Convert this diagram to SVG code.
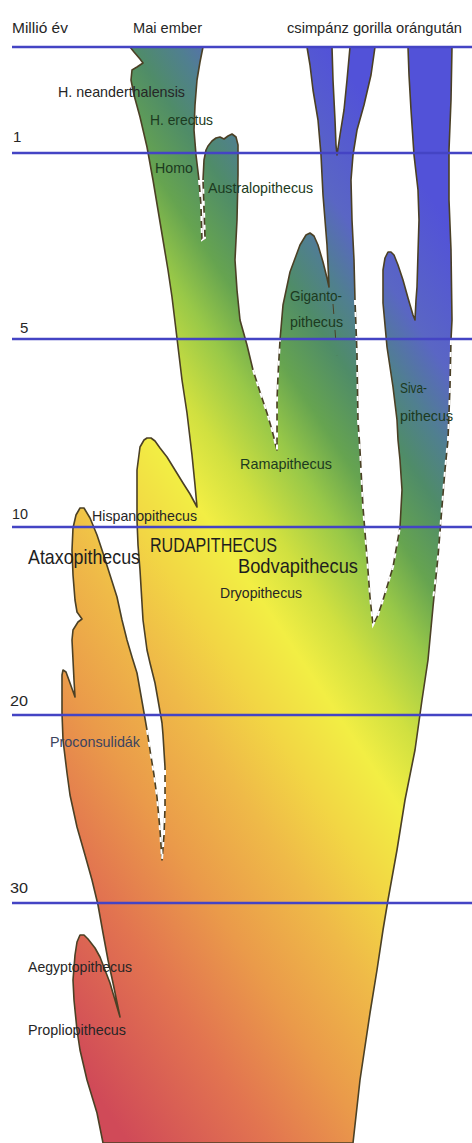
<svg xmlns="http://www.w3.org/2000/svg" width="472" height="1143" viewBox="0 0 472 1143">
<defs>
<linearGradient id="g" gradientUnits="userSpaceOnUse" x1="207.7" y1="-138.5" x2="-438.5" y2="292.3">
<stop offset="0" stop-color="#5252d8"/>
<stop offset="0.107" stop-color="#5a66c4"/>
<stop offset="0.164" stop-color="#507f90"/>
<stop offset="0.214" stop-color="#4f8c68"/>
<stop offset="0.279" stop-color="#66a450"/>
<stop offset="0.336" stop-color="#98c848"/>
<stop offset="0.407" stop-color="#d0e040"/>
<stop offset="0.47" stop-color="#f2ee44"/>
<stop offset="0.55" stop-color="#f2d644"/>
<stop offset="0.63" stop-color="#efba48"/>
<stop offset="0.74" stop-color="#ea9a4a"/>
<stop offset="0.85" stop-color="#e27450"/>
<stop offset="1" stop-color="#d04a58"/>
</linearGradient>
<style>
.shape{fill:url(#g);stroke:#4b4025;stroke-width:1.6;stroke-linejoin:round}
.dash{fill:none;stroke:#ffffff;stroke-width:2;stroke-dasharray:5 7}
.tick{fill:none;stroke:#4b4025;stroke-width:1;stroke-dasharray:10 16}
.hl{stroke:#4444c4;stroke-width:2.6}
text{font-family:"Liberation Sans Narrow","Liberation Sans",Arial,sans-serif;fill:#262626}
.t{font-size:15px}
.n{font-size:15px}
.big{font-size:21px;fill:#1e1e1e}
.gr{fill:#1c3a20}
</style>
</defs>
<g id="tree">
<path class="shape" d="M130,47 L203,47 L200,62 L197,80 L195,105 L194,130 L196,155 L199,180 L201,205 L202,240 L205,238 L204,210 L203,180 L204,160 L206,150 L208,146 L212,141 L216,138 L220,137 L224,139 L228,136 L232,134 L236,137 L238,145 L238,175 L237,220 L235,260 L237,290 L240,320 L247,345 L253,370 L260,392 L267,413 L272,430 L277,450 L277,430 L277,400 L278,375 L280,340 L283,305 L290,272 L300,245 L306,235 L310,233 L314,236 L318,245 L323,262 L327,278 L329,287 L328,265 L327,245 L325,220 L323,195 L322,175 L321,155 L318,120 L313,90 L310,65 L307,47 L332,47 L333,80 L335,120 L336,145 L337,155 L340,135 L344,110 L347,80 L350,47 L375,47 L371,75 L364,105 L357,130 L353,155 L351,180 L352,220 L354,260 L355,300 L357,353 L358,420 L360,450 L363,507 L367,557 L370,597 L373,625 L378,615 L383,600 L393,567 L400,527 L402,490 L400,460 L398,440 L397,420 L393,387 L387,347 L383,303 L383,270 L385,258 L388,252 L391,252 L394,255 L398,265 L403,280 L408,298 L413,315 L415,320 L416,300 L417,287 L418,253 L419,220 L418,190 L414,155 L411,110 L409,75 L408,47 L452,47 L451,100 L449,150 L449,200 L451,250 L452,320 L451,340 L450,387 L448,440 L445,470 L442,507 L438,557 L433,607 L428,660 L422,700 L415,750 L405,800 L397,850 L388,900 L383,930 L377,970 L370,1013 L360,1080 L353,1143 L103,1143 L97,1113 L87,1080 L80,1050 L77,1030 L74,1000 L73,980 L75,955 L77,942 L80,935 L84,935 L88,939 L95,948 L100,957 L105,970 L110,983 L115,1000 L120,1017 L113,983 L108,960 L103,933 L98,905 L92,880 L85,855 L77,827 L70,795 L67,773 L63,740 L62,713 L62,690 L62,675 L63,670 L66,672 L70,683 L75,697 L74,680 L73,660 L72,640 L73,630 L78,622 L82,619 L77,612 L75,600 L73,575 L72,550 L73,528 L76,515 L80,508 L84,508 L90,518 L97,535 L103,553 L110,575 L117,597 L122,620 L127,640 L132,657 L137,673 L140,690 L143,707 L147,730 L150,750 L154,775 L157,797 L160,830 L162,860 L164,835 L165,807 L165,767 L163,735 L162,723 L158,700 L155,683 L150,663 L147,650 L145,635 L143,620 L140,570 L138,545 L137,520 L137,490 L137,470 L140,447 L144,440 L147,438 L151,438 L155,441 L160,448 L167,457 L175,470 L183,483 L190,494 L197,507 L195,485 L192,455 L187,413 L182,380 L179,355 L176,330 L172,297 L168,270 L163,240 L158,210 L153,180 L147,147 L140,117 L134,95 L131,80 L132,70 L137,67 L143,63 L140,59 L134,52 Z"/>
</g>
<g id="connectors">
<path class="dash" d="M199,180 L201,205 L202,240 L205,238 L204,210 L203,180"/>
<path class="dash" d="M253,370 L260,392 L267,413 L272,430 L277,450 L277,430 L277,400 L278,375 L280,340"/>
<path class="dash" d="M355,300 L357,353 L358,420 L360,450 L363,507 L367,557 L370,597 L373,625 L378,615 L383,600 L393,567 L400,527"/>
<path class="dash" d="M451,340 L450,387 L448,440 L445,470 L442,507 L438,557 L433,600"/>
<path class="dash" d="M147,730 L150,750 L154,775 L157,797 L160,830 L162,860 L164,835 L165,807 L165,767"/>
<path class="tick" d="M333,304 L337,356"/>
</g>
<g id="timelines">
<line class="hl" x1="12" y1="47" x2="472" y2="47"/>
<line class="hl" x1="12" y1="153" x2="472" y2="153"/>
<line class="hl" x1="12" y1="339" x2="472" y2="339"/>
<line class="hl" x1="12" y1="527" x2="472" y2="527"/>
<line class="hl" x1="12" y1="715" x2="472" y2="715"/>
<line class="hl" x1="12" y1="903" x2="472" y2="903"/>
</g>
<g id="labels">
<text class="t" x="12" y="33" textLength="56" lengthAdjust="spacingAndGlyphs">Millió év</text>
<text class="t" x="133" y="33" textLength="69" lengthAdjust="spacingAndGlyphs">Mai ember</text>
<text class="t" x="287" y="33" textLength="175" lengthAdjust="spacingAndGlyphs">csimpánz gorilla orángután</text>
<text class="t" x="58" y="97" textLength="127" lengthAdjust="spacingAndGlyphs">H. neanderthalensis</text>
<text class="t gr" x="150" y="125" textLength="63" lengthAdjust="spacingAndGlyphs">H. erectus</text>
<text class="n" x="13" y="142">1</text>
<text class="t gr" x="155" y="173" textLength="38" lengthAdjust="spacingAndGlyphs">Homo</text>
<text class="t gr" x="208" y="193" textLength="105" lengthAdjust="spacingAndGlyphs">Australopithecus</text>
<text class="t gr" x="290" y="301" textLength="52" lengthAdjust="spacingAndGlyphs">Giganto-</text>
<text class="t gr" x="290" y="327" textLength="53" lengthAdjust="spacingAndGlyphs">pithecus</text>
<text class="n" x="20" y="333">5</text>
<text class="t gr" x="400" y="393" textLength="27" lengthAdjust="spacingAndGlyphs">Siva-</text>
<text class="t gr" x="400" y="421" textLength="53" lengthAdjust="spacingAndGlyphs">pithecus</text>
<text class="t gr" x="240" y="469" textLength="92" lengthAdjust="spacingAndGlyphs">Ramapithecus</text>
<text class="n" x="12" y="519" textLength="16" lengthAdjust="spacingAndGlyphs">10</text>
<text class="t" x="92" y="521" textLength="105" lengthAdjust="spacingAndGlyphs">Hispanopithecus</text>
<text class="big" x="150" y="552" textLength="127" lengthAdjust="spacingAndGlyphs">RUDAPITHECUS</text>
<text class="big" x="28" y="564" textLength="112" lengthAdjust="spacingAndGlyphs">Ataxopithecus</text>
<text class="big" x="238" y="573" textLength="120" lengthAdjust="spacingAndGlyphs">Bodvapithecus</text>
<text class="t" x="220" y="598" textLength="82" lengthAdjust="spacingAndGlyphs">Dryopithecus</text>
<text class="n" x="10" y="706" textLength="18" lengthAdjust="spacingAndGlyphs">20</text>
<text class="t" x="50" y="747" textLength="90" lengthAdjust="spacingAndGlyphs" style="fill:#3c4460">Proconsulidák</text>
<text class="n" x="10" y="893" textLength="18" lengthAdjust="spacingAndGlyphs">30</text>
<text class="t" x="28" y="972" textLength="104" lengthAdjust="spacingAndGlyphs">Aegyptopithecus</text>
<text class="t" x="28" y="1035" textLength="98" lengthAdjust="spacingAndGlyphs">Propliopithecus</text>
</g>
</svg>
